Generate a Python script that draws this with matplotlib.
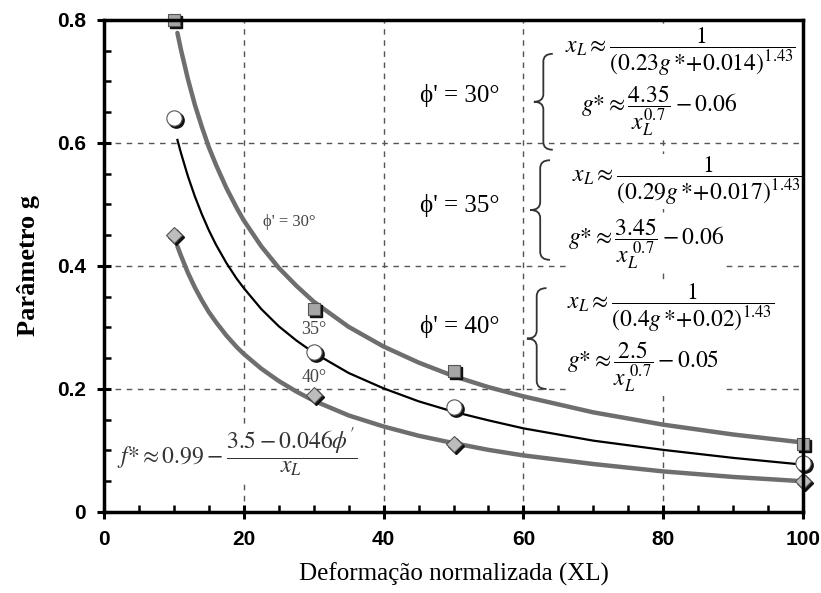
import matplotlib
matplotlib.use("Agg")
import matplotlib.pyplot as plt
import matplotlib.transforms as mtransforms
from matplotlib.path import Path
from matplotlib.patches import PathPatch
from matplotlib.ticker import MultipleLocator

plt.rcParams['mathtext.fontset'] = 'stix'

# measured points (markers)
x_pts = [10, 30, 50, 100]
g30_pts = [0.80, 0.33, 0.23, 0.11]
g35_pts = [0.64, 0.26, 0.17, 0.08]
g40_pts = [0.45, 0.19, 0.11, 0.05]

# fitted curves
x_curve = [10.5, 11, 12, 13, 14, 15, 16, 17.5, 19, 20, 22.5, 25, 27.5, 30,
           35, 40, 45, 50, 55, 60, 70, 80, 90, 100]
g30_curve = [0.779, 0.752, 0.704, 0.662, 0.626, 0.593, 0.565, 0.527, 0.494, 0.474, 0.432, 0.397, 0.368, 0.342,
             0.301, 0.269, 0.243, 0.221, 0.203, 0.188, 0.162, 0.142, 0.126, 0.113]
g35_curve = [0.605, 0.584, 0.546, 0.513, 0.484, 0.458, 0.435, 0.405, 0.379, 0.364, 0.330, 0.302, 0.279, 0.259,
             0.226, 0.201, 0.180, 0.163, 0.149, 0.136, 0.116, 0.101, 0.088, 0.077]
g40_curve = [0.432, 0.417, 0.389, 0.365, 0.344, 0.325, 0.309, 0.287, 0.268, 0.257, 0.233, 0.213, 0.196, 0.181,
             0.157, 0.139, 0.124, 0.112, 0.101, 0.092, 0.078, 0.066, 0.057, 0.050]

fig = plt.figure(figsize=(8.21, 5.93), dpi=100)
ax = fig.add_axes([0.1267, 0.1366, 0.8514, 0.8297])
ax.set_xlim(0, 100)
ax.set_ylim(0, 0.8)

# grid
for gx in [20, 40, 60, 80]:
    ax.axvline(gx, color='#555555', ls=(0, (4, 4)), lw=1, zorder=1)
for gy in [0.2, 0.4, 0.6]:
    ax.axhline(gy, color='#555555', ls=(0, (4, 4)), lw=1, zorder=1)

# curves
ax.plot(x_curve, g30_curve, color='#6e6e6e', lw=3.2, zorder=4, solid_capstyle='round', solid_joinstyle='round')
ax.plot(x_curve, g35_curve, color='black', lw=1.6, zorder=4, solid_joinstyle='round')
ax.plot(x_curve, g40_curve, color='#6e6e6e', lw=3.2, zorder=4, solid_capstyle='round', solid_joinstyle='round')

# markers with a small dark shadow
shadow = ax.transData + mtransforms.ScaledTranslation(2 / 100, -2 / 100, fig.dpi_scale_trans)
for pts, mk, fc, ms in [(g30_pts, 's', '#a6a6a6', 9), (g35_pts, 'o', 'white', 11), (g40_pts, 'D', '#bdbdbd', 8)]:
    ax.plot(x_pts, pts, ls='none', marker=mk, ms=ms, mfc='#111111', mec='#111111', transform=shadow, zorder=5, clip_on=False)
    ax.plot(x_pts, pts, ls='none', marker=mk, ms=ms, mfc=fc, mec='#555555', mew=0.8, zorder=6, clip_on=False)

serif = ['Liberation Serif', 'DejaVu Serif']
wbox = dict(facecolor='white', edgecolor='none', pad=1)

# phi labels
for yv, lab in [(0.678, "30°"), (0.499, "35°"), (0.302, "40°")]:
    ax.text(45.2, yv, "ϕ' = " + lab, fontfamily=serif, fontsize=18, va='center', ha='left', zorder=3, bbox=wbox)

def brace(x0, x1, y0, y1):
    xm = (x0 + x1) / 2
    ym = (y0 + y1) / 2
    h = (y1 - y0) * 0.08
    verts = [(x1, y1), (xm, y1), (xm, y1 - h), (xm, ym + h), (xm, ym), (x0, ym),
             (xm, ym), (xm, ym - h), (xm, y0 + h), (xm, y0), (x1, y0)]
    codes = [Path.MOVETO, Path.CURVE3, Path.CURVE3, Path.LINETO, Path.CURVE3, Path.CURVE3,
             Path.CURVE3, Path.CURVE3, Path.LINETO, Path.CURVE3, Path.CURVE3]
    ax.add_patch(PathPatch(Path(verts, codes), fc='none', ec='#333333', lw=1.3, zorder=3))

brace(61.5, 64.2, 0.589, 0.745)
brace(61.0, 63.8, 0.410, 0.572)
brace(60.5, 63.3, 0.200, 0.364)

eqs = [
    (65.9, 0.748, r"$x_L \approx \dfrac{1}{(0.23g\,{*}\!+\!0.014)^{1.43}}$"),
    (68.3, 0.652, r"$g{*} \approx \dfrac{4.35}{x_L^{0.7}} - 0.06$"),
    (67.0, 0.538, r"$x_L \approx \dfrac{1}{(0.29g\,{*}\!+\!0.017)^{1.43}}$"),
    (66.4, 0.437, r"$g{*} \approx \dfrac{3.45}{x_L^{\ 0.7}} - 0.06$"),
    (66.3, 0.332, r"$x_L \approx \dfrac{1}{(0.4g\,{*}\!+\!0.02)^{1.43}}$"),
    (66.3, 0.236, r"$g{*} \approx \dfrac{2.5}{x_L^{\ 0.7}} - 0.05$"),
]
for ex, ey, s in eqs:
    ax.text(ex, ey, s, fontsize=17, va='center', ha='left', zorder=3, bbox=wbox)

ax.text(1.8, 0.096, r"$f{*} \approx 0.99 - \dfrac{3.5 - 0.046\phi'}{x_L}$", fontsize=17,
        va='center', ha='left', color='#333333', zorder=3, bbox=wbox)

# curve labels
ax.text(22.7, 0.472, "ϕ' = 30°", fontfamily=serif, fontsize=12, va='center', color='#444444', zorder=3)
ax.text(28.2, 0.296, "35°", fontfamily=serif, fontsize=13, va='center', color='#444444', zorder=3)
ax.text(28.2, 0.218, "40°", fontfamily=serif, fontsize=13, va='center', color='#444444', zorder=3)

# axes style
for sp in ax.spines.values():
    sp.set_linewidth(2.5)
    sp.set_zorder(7)
ax.xaxis.set_major_locator(MultipleLocator(20))
ax.xaxis.set_minor_locator(MultipleLocator(5))
ax.yaxis.set_major_locator(MultipleLocator(0.2))
ax.yaxis.set_minor_locator(MultipleLocator(0.05))
ax.tick_params(which='major', direction='inout', length=10, width=2.2, pad=8)
ax.tick_params(which='minor', direction='in', length=5, width=1.8)
ax.set_xticks([0, 20, 40, 60, 80, 100])
ax.set_xticklabels(['0', '20', '40', '60', '80', '100'])
ax.set_yticks([0, 0.2, 0.4, 0.6, 0.8])
ax.set_yticklabels(['0', '0.2', '0.4', '0.6', '0.8'])
for lab in ax.get_xticklabels() + ax.get_yticklabels():
    lab.set_fontfamily(['Liberation Sans Narrow', 'Liberation Sans'])
    lab.set_fontweight('bold')
    lab.set_fontsize(15)

ax.set_xlabel("Deformação normalizada (XL)", fontfamily=serif, fontsize=18, labelpad=10)
ax.set_ylabel("Parâmetro g", fontfamily=serif, fontsize=19, fontweight='bold', labelpad=12)

fig.savefig("out.png", dpi=100)
